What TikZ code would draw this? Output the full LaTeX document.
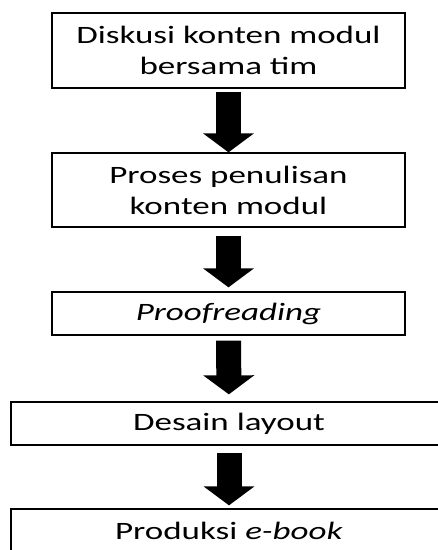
\documentclass[tikz,border=0pt]{standalone}
\usepackage{fontspec}
\setmainfont{Carlito}[FakeStretch=1.4]
\usetikzlibrary{arrows.meta}

\begin{document}
\begin{tikzpicture}[x=1pt,y=-1pt,
  stepbox/.style={draw, line width=1.3pt, align=center, inner sep=0pt,
    font=\fontsize{25}{31}\selectfont},
  bigarrow/.style={line width=25pt, -{Triangle[width=50pt,length=19pt]}}]
\useasboundingbox (0,0) rectangle (438,550);
\clip (0,0) rectangle (438,550);
\node [stepbox, minimum width=353pt, minimum height=75pt] (diskusi) at (228.5,50.5) {Diskusi konten modul\\bersama tim};
\node [stepbox, minimum width=353pt, minimum height=74pt] (penulisan) at (228.5,190) {Proses penulisan\\konten modul};
\node [stepbox, minimum width=353pt, minimum height=43pt] (proof) at (228.5,313.5) {\itshape Proofreading};
\node [stepbox, minimum width=436pt, minimum height=43pt] (desain) at (229,423.5) {Desain layout};
\node [stepbox, minimum width=436pt, minimum height=43pt] (produksi) at (229,530.5) {Produksi \textit{e-book}};
\draw [bigarrow, shorten <=3pt] (diskusi) -- (penulisan);
\draw [bigarrow, shorten <=8pt, shorten >=4pt] (penulisan) -- (proof);
\draw [bigarrow, shorten <=5pt, shorten >=7pt] (proof) -- (desain);
\draw [bigarrow, shorten <=7pt, shorten >=3pt] (desain) -- (produksi);
\end{tikzpicture}
\end{document}
